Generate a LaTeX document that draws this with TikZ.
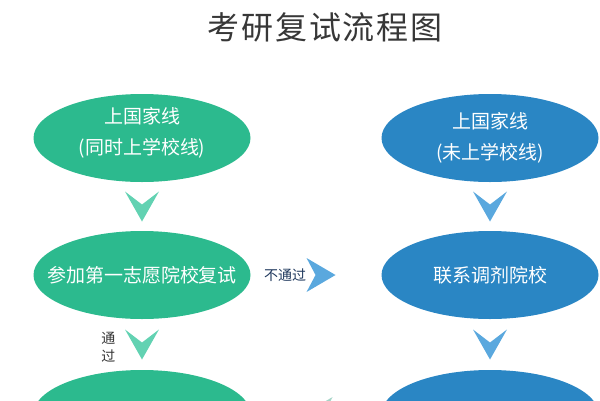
\documentclass[tikz,border=0pt]{standalone}
\usepackage{fontspec}
\setmainfont{Noto Sans CJK SC}
\usetikzlibrary{shapes.geometric,positioning}

\definecolor{ellgreen}{RGB}{44,186,142}
\definecolor{ellblue}{RGB}{42,134,196}
\definecolor{arrgreen}{RGB}{98,210,178}
\definecolor{arrblue}{RGB}{90,168,222}
\definecolor{navytext}{RGB}{30,55,92}
\definecolor{titletext}{RGB}{55,55,55}

% chevron tips between the ellipses
\newcommand{\chevdown}[2]{\fill[#2] (#1) ++(-17,-15) -- ++(17,13) -- ++(17,-13) -- ++(-17,30) -- cycle;}
\newcommand{\chevright}[2]{\fill[#2] (#1) ++(-14,-17) -- ++(9,17) -- ++(-9,17) -- ++(29,-17) -- cycle;}
\newcommand{\chevleft}[2]{\fill[#2] (#1) ++(14,-17) -- ++(-9,17) -- ++(9,17) -- ++(-29,-17) -- cycle;}

\begin{document}
\begin{tikzpicture}[x=1pt,y=-1pt,
	ellbox/.style={ellipse, minimum width=217pt, minimum height=88pt, inner sep=0pt},
	gell/.style={ellbox, fill=ellgreen},
	bell/.style={ellbox, fill=ellblue},
	etxt/.style={text=white, align=center, font=\fontsize{19}{31}\selectfont}]
	\useasboundingbox (0,0) rectangle (600,400);
	\clip (0,0) rectangle (600,400);

	\node[text=titletext, font=\fontsize{32}{36}\selectfont\addfontfeature{LetterSpace=6}] (title) at (325,27) {考研复试流程图};

	% left column
	\node[gell] (g1) at (142,138) {};
	\node[etxt] (g1t) at ([yshift=5pt]g1) {上国家线\\(同时上学校线)};
	\node[gell] (g2) at (142,275) {};
	\node[etxt] (g2t) at (g2) {参加第一志愿院校复试};
	\node[gell] (g3) at (142,414) {};

	% right column
	\node[bell] (b1) at (490,138) {};
	\node[etxt] (b1t) at (b1) {上国家线\\(未上学校线)};
	\node[bell] (b2) at (490,275) {};
	\node[etxt] (b2t) at (b2) {联系调剂院校};
	\node[bell] (b3) at (490,414) {};

	\path (g1) -- (g2) coordinate[pos=.5] (m1);
	\path (g2) -- (g3) coordinate[pos=.5] (m2);
	\path (b1) -- (b2) coordinate[pos=.5] (m3);
	\path (b2) -- (b3) coordinate[pos=.5] (m4);
	\chevdown{m1}{arrgreen}
	\chevdown{m2}{arrgreen}
	\chevdown{m3}{arrblue}
	\chevdown{m4}{arrblue}

	\node[text=black!80, align=center, font=\fontsize{14}{18}\selectfont, left=23pt of m2, yshift=-3pt] (pass) {通\\过};

	\node[text=navytext, font=\fontsize{14}{16}\selectfont] (fail) at (285,275) {不通过};
	\coordinate[right=11pt of fail.east] (m5);
	\chevright{m5}{arrblue}

	\path (g3) -- (b3) coordinate[pos=.52] (m6);
	\chevleft{m6}{arrgreen!70!gray!60}
\end{tikzpicture}
\end{document}
